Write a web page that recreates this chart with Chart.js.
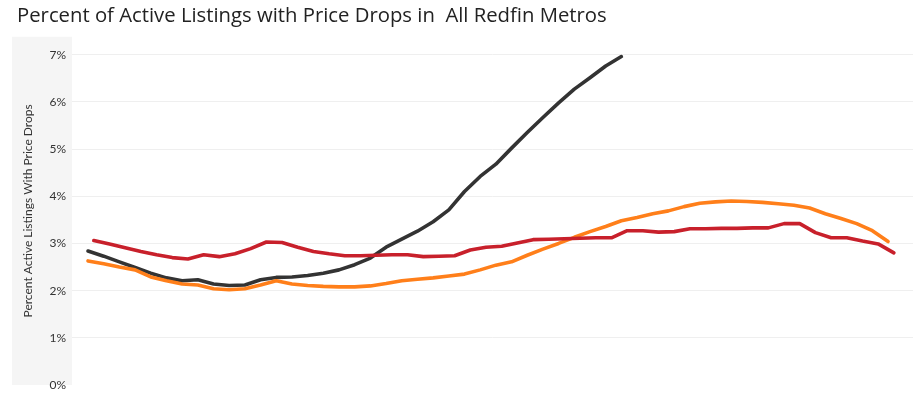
<!DOCTYPE html>
<html>
<head>
<meta charset="utf-8">
<script src="https://cdn.jsdelivr.net/npm/chart.js@4.4.1/dist/chart.umd.min.js"></script>
<style>
  body { margin: 0; background: #fff; }
  #wrap { width: 920px; height: 395px; }
</style>
</head>
<body>
<div id="wrap"><canvas id="priceDrops"></canvas></div>
<script>
const weeks = Array.from({ length: 52 }, (_, i) => i);
const redWeekShift = 0.37;

const blackSeries = [2.84, 2.73, 2.61, 2.49, 2.37, 2.27, 2.21, 2.23, 2.14, 2.11,
  2.12, 2.23, 2.28, 2.29, 2.32, 2.37, 2.44, 2.55, 2.69, 2.92,
  3.09, 3.26, 3.46, 3.71, 4.10, 4.42, 4.68, 5.02, 5.35, 5.67,
  5.98, 6.27, 6.51, 6.76, 6.96];

const orangeSeries = [2.63, 2.57, 2.50, 2.44, 2.29, 2.21, 2.14, 2.12, 2.04, 2.02,
  2.04, 2.12, 2.21, 2.14, 2.11, 2.09, 2.08, 2.08, 2.10, 2.15,
  2.21, 2.24, 2.27, 2.31, 2.35, 2.44, 2.54, 2.61, 2.75, 2.88,
  3.00, 3.13, 3.25, 3.36, 3.48, 3.55, 3.63, 3.69, 3.78, 3.85,
  3.88, 3.90, 3.89, 3.87, 3.84, 3.81, 3.75, 3.63, 3.53, 3.42,
  3.27, 3.04];

const redSeries = [3.06, 2.99, 2.91, 2.83, 2.76, 2.70, 2.67, 2.76, 2.72, 2.78,
  2.89, 3.03, 3.02, 2.92, 2.83, 2.78, 2.74, 2.74, 2.75, 2.76,
  2.76, 2.72, 2.73, 2.74, 2.86, 2.92, 2.94, 3.01, 3.08, 3.09,
  3.10, 3.11, 3.12, 3.12, 3.27, 3.27, 3.24, 3.25, 3.31, 3.31,
  3.32, 3.32, 3.33, 3.33, 3.42, 3.42, 3.23, 3.12, 3.12, 3.05,
  2.99, 2.80];

const yTicks = [0, 1, 2, 3, 4, 5, 6, 7];

const FONT = "Lato, 'Open Sans', sans-serif";

// grey band behind the y axis, like the Tableau header pane
const axisPane = {
  id: "axisPane",
  beforeDraw(chart) {
    const { ctx, chartArea } = chart;
    const y = chart.scales.y;
    ctx.save();
    ctx.fillStyle = "#f5f5f5";
    ctx.fillRect(y.left - 5, chartArea.top, chartArea.left - y.left + 5, chartArea.bottom - chartArea.top);
    ctx.restore();
  }
};

function lineSet(label, values, color, shift) {
  return {
    label: label,
    data: values.map((v, i) => ({ x: weeks[i] + shift, y: v })),
    borderColor: color,
    backgroundColor: color,
    borderWidth: 3.6,
    borderCapStyle: "round",
    borderJoinStyle: "round",
    pointRadius: 0,
    tension: 0
  };
}

const ctx = document.getElementById("priceDrops").getContext("2d");
const chart = new Chart(ctx, {
  type: "line",
  data: {
    datasets: [
      lineSet("Previous year", redSeries, "#c8202b", redWeekShift),
      lineSet("Two years ago", orangeSeries, "#ff7f1a", 0),
      lineSet("Current year", blackSeries, "#333333", 0)
    ]
  },
  options: {
    responsive: true,
    maintainAspectRatio: false,
    animation: false,
    layout: { padding: { left: 17, right: 7, top: 0, bottom: 10 } },
    scales: {
      x: {
        type: "linear",
        min: -1.02,
        max: 52.59,
        display: false
      },
      y: {
        min: 0,
        max: 7.38,
        afterBuildTicks: (scale) => { scale.ticks = yTicks.map(v => ({ value: v })); },
        afterFit: (scale) => { scale.width = 55; },
        border: { display: false },
        grid: {
          tickLength: 6,
          tickColor: "rgba(0,0,0,0)",
          color: (c) => c.tick && c.tick.value === 0 ? "rgba(0,0,0,0)" : "#efefef"
        },
        ticks: {
          padding: 0,
          color: "#333",
          font: { family: FONT, size: 12 },
          callback: (v) => v + "%"
        },
        title: {
          display: true,
          text: "Percent Active Listings With Price Drops",
          color: "#333",
          font: { family: FONT, size: 12 },
          padding: { top: 4, bottom: 0 }
        }
      }
    },
    plugins: {
      legend: { display: false },
      tooltip: { enabled: false },
      title: {
        display: true,
        text: "Percent of Active Listings with Price Drops in  All Redfin Metros",
        align: "start",
        color: "#222",
        font: { family: "'Open Sans', sans-serif", size: 20.3, weight: "normal" },
        padding: { top: 4, bottom: 8.4 }
      }
    }
  },
  plugins: [axisPane]
});
</script>
</body>
</html>
